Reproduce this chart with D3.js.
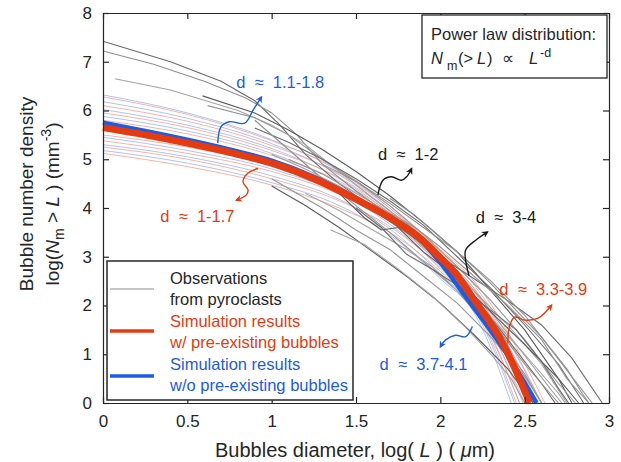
<!DOCTYPE html>
<html>
<head>
<meta charset="utf-8">
<script src="https://cdn.jsdelivr.net/npm/d3@7/dist/d3.min.js"></script>
<style>
  body { margin: 0; background: #fff; }
  text { font-family: "Liberation Sans", Arial, Helvetica, sans-serif; fill: #262626; }
</style>
</head>
<body>
<svg id="chart" width="621" height="462"></svg>
<script>
// Tick values
const xTicks = [0, 0.5, 1, 1.5, 2, 2.5, 3];
const yTicks = [0, 1, 2, 3, 4, 5, 6, 7, 8];

// Observations from pyroclasts, [log L, log Nm]
const obsCurves = [
  [[0, 7.42], [0.4, 7.0], [0.7, 6.6], [0.9, 6.2], [1.05, 5.7], [1.2, 5.1], [1.4, 4.5], [1.6, 4.0], [1.8, 3.5], [2.0, 3.0], [2.2, 2.2], [2.4, 1.3], [2.6, 0.4], [2.68, 0]],
  [[0, 7.22], [0.3, 6.95], [0.6, 6.6], [0.85, 6.25], [1.0, 5.95], [1.15, 5.5], [1.3, 4.9], [1.5, 4.35], [1.7, 3.85], [1.9, 3.25], [2.1, 2.6], [2.3, 1.7], [2.5, 0.8], [2.7, 0]],
  [[0.07, 6.65], [0.4, 6.42], [0.8, 6.0], [1.0, 5.7], [1.2, 5.3], [1.4, 4.75], [1.6, 4.2], [1.85, 3.55], [2.05, 2.9], [2.25, 2.1], [2.45, 1.2], [2.65, 0.3], [2.72, 0]],
  [[0.59, 6.3], [0.9, 5.95], [1.1, 5.6], [1.3, 5.2], [1.5, 4.75], [1.7, 4.25], [1.9, 3.7], [2.1, 3.1], [2.3, 2.3], [2.5, 1.5], [2.7, 0.5], [2.78, 0]],
  [[0.62, 6.1], [0.9, 5.85], [1.1, 5.5], [1.3, 5.0], [1.5, 4.55], [1.7, 4.05], [1.9, 3.45], [2.1, 2.8], [2.3, 2.1], [2.5, 1.3], [2.7, 0.4], [2.8, 0]],
  [[0.9, 5.64], [1.1, 5.35], [1.3, 5.0], [1.5, 4.6], [1.7, 4.15], [1.9, 3.65], [2.1, 3.0], [2.3, 2.35], [2.5, 1.6], [2.7, 0.8], [2.85, 0]],
  [[0.9, 5.8], [1.1, 5.2], [1.3, 4.6], [1.5, 4.05], [1.7, 3.5], [1.9, 2.9], [2.1, 2.3], [2.3, 1.5], [2.5, 0.6], [2.6, 0]],
  [[1.0, 5.1], [1.2, 4.8], [1.4, 4.45], [1.6, 4.0], [1.8, 3.5], [2.0, 2.9], [2.2, 2.3], [2.4, 1.6], [2.6, 0.8], [2.75, 0]],
  [[1.0, 4.45], [1.2, 4.05], [1.4, 3.6], [1.6, 3.1], [1.8, 2.6], [2.0, 2.05], [2.2, 1.4], [2.4, 0.7], [2.55, 0]],
  [[1.0, 4.6], [1.3, 4.0], [1.5, 3.55], [1.7, 3.15], [1.9, 2.6], [2.1, 2.05], [2.3, 1.35], [2.5, 0.55], [2.6, 0]],
  [[1.6, 3.95], [1.8, 3.5], [2.0, 3.0], [2.2, 2.55], [2.4, 2.1], [2.6, 1.6], [2.78, 0.92], [2.96, 0]],
  [[1.3, 4.9], [1.5, 4.55], [1.7, 4.1], [1.9, 3.6], [2.1, 3.1], [2.3, 2.5], [2.5, 1.8], [2.7, 0.9], [2.9, 0]],
  [[1.2, 4.3], [1.4, 3.95], [1.6, 3.55], [1.8, 3.15], [1.95, 2.8], [2.1, 2.3], [2.3, 1.75], [2.5, 1.0], [2.7, 0.2], [2.74, 0]],
  [[1.4, 4.3], [1.55, 3.8], [1.65, 3.55], [1.75, 3.6], [1.9, 3.1], [2.05, 2.7], [2.2, 2.2], [2.35, 1.7], [2.5, 1.2], [2.7, 0.5], [2.82, 0]],
  [[1.1, 5.0], [1.3, 4.7], [1.5, 4.3], [1.7, 3.9], [1.85, 3.6], [2.0, 3.2], [2.2, 2.6], [2.4, 2.0], [2.6, 1.3], [2.75, 0.5], [2.88, 0]],
  [[1.5, 4.0], [1.65, 3.6], [1.8, 3.05], [1.95, 2.75], [2.15, 2.3], [2.3, 1.9], [2.45, 1.5], [2.6, 0.85], [2.7, 0.3], [2.76, 0]],
  [[1.7, 4.2], [1.85, 3.85], [2.0, 3.4], [2.15, 2.95], [2.3, 2.45], [2.45, 1.9], [2.6, 1.35], [2.75, 0.7], [2.85, 0.15], [2.88, 0]],
  [[1.35, 3.55], [1.55, 3.25], [1.75, 2.75], [1.95, 2.2], [2.15, 1.55], [2.3, 1.0], [2.42, 0.5], [2.5, 0]]
];

// Simulation ensembles: y values at simX, then each curve ends at y = 0
const simX = [0, 0.5, 1, 1.4, 1.7, 2, 2.2];
const simRedY = [
  [6.28, 5.92, 5.38, 4.78, 4.05, 3.15, 2.5],
  [6.1, 5.78, 5.28, 4.7, 4.0, 3.1, 2.42],
  [5.95, 5.65, 5.18, 4.62, 3.95, 3.05, 2.35],
  [5.8, 5.52, 5.08, 4.55, 3.9, 3.0, 2.3],
  [5.5, 5.25, 4.88, 4.38, 3.8, 2.92, 2.2],
  [5.38, 5.12, 4.75, 4.28, 3.72, 2.85, 2.12],
  [5.25, 5.0, 4.6, 4.15, 3.62, 2.78, 2.05],
  [5.12, 4.85, 4.47, 4.0, 3.5, 2.7, 1.98]
];
const simRedEnd = [2.62, 2.6, 2.57, 2.55, 2.52, 2.49, 2.47, 2.45];
const simBlueY = [
  [6.32, 5.95, 5.4, 4.75, 4.0, 3.05, 2.35],
  [6.18, 5.84, 5.32, 4.68, 3.95, 3.0, 2.28],
  [6.02, 5.7, 5.22, 4.6, 3.9, 2.95, 2.2],
  [5.88, 5.58, 5.12, 4.52, 3.85, 2.9, 2.15],
  [5.6, 5.34, 4.94, 4.4, 3.75, 2.82, 2.08],
  [5.45, 5.18, 4.8, 4.3, 3.67, 2.75, 2.0],
  [5.3, 5.05, 4.66, 4.18, 3.57, 2.65, 1.92],
  [5.18, 4.92, 4.52, 4.05, 3.45, 2.55, 1.85]
];
const simBlueEnd = [2.6, 2.58, 2.55, 2.53, 2.5, 2.47, 2.44, 2.42];

// Representative simulation results
const redMain = [[0, 5.65], [0.25, 5.5], [0.5, 5.33], [0.75, 5.14], [1, 4.92], [1.25, 4.6], [1.5, 4.18], [1.74, 3.72], [1.88, 3.38], [2.0, 2.98], [2.09, 2.66], [2.19, 2.17], [2.37, 1.23], [2.53, 0]];
const blueMain = [[0, 5.75], [0.25, 5.58], [0.5, 5.4], [0.75, 5.2], [1, 4.97], [1.25, 4.64], [1.5, 4.2], [1.74, 3.7], [1.9, 3.28], [2.0, 2.88], [2.15, 2.18], [2.39, 1.03], [2.57, 0]];

// Annotations: label, colour, text anchor and squiggly arrow path (data units)
const notes = [
  { text: 'd  \u2248  1.1-1.8', color: '#1a5ce6', at: [0.79, 6.46], arrow: [[0.68, 5.33], [0.70, 5.67], [0.75, 5.77], [0.84, 5.74], [0.89, 6.01], [0.94, 6.28]] },
  { text: 'd  \u2248  1-1.7', color: '#e63b10', at: [0.34, 3.71], arrow: [[0.92, 4.81], [0.86, 4.72], [0.83, 4.54], [0.86, 4.37], [0.85, 4.27], [0.79, 4.16]] },
  { text: 'd  \u2248  1-2', color: '#1a1a1a', at: [1.63, 4.98], arrow: [[1.63, 4.27], [1.66, 4.57], [1.71, 4.64], [1.77, 4.57], [1.80, 4.64], [1.83, 4.81]] },
  { text: 'd  \u2248  3-4', color: '#1a1a1a', at: [2.21, 3.69], arrow: [[2.17, 2.61], [2.15, 2.93], [2.15, 3.14], [2.21, 3.34], [2.28, 3.51]] },
  { text: 'd  \u2248  3.3-3.9', color: '#e63b10', at: [2.35, 2.22], arrow: [[2.40, 1.22], [2.41, 1.57], [2.44, 1.76], [2.50, 1.70], [2.58, 1.74], [2.66, 2.01]] },
  { text: 'd  \u2248  3.7-4.1', color: '#1a5ce6', at: [1.64, 0.68], arrow: [[2.19, 1.57], [2.15, 1.36], [2.09, 1.39], [2.03, 1.29], [2.00, 1.15]] }
];

const svg = d3.select('#chart');
const m = { left: 103, right: 609, top: 13, bottom: 403 };

const x = d3.scaleLinear().domain([0, 3]).range([m.left, m.right]);
const y = d3.scaleLinear().domain([0, 8]).range([m.bottom, m.top]);

const line = d3.line().x(d => x(d[0])).y(d => y(d[1]));
const smooth = d3.line().x(d => x(d[0])).y(d => y(d[1])).curve(d3.curveMonotoneX);

function simPoints(rows, ends) {
  return rows.map((row, i) => simX.map((v, j) => [v, row[j]]).concat([[ends[i], 0]]));
}

// Light simulation ensembles, red and blue interleaved
const plot = svg.append('g');
const redSims = simPoints(simRedY, simRedEnd);
const blueSims = simPoints(simBlueY, simBlueEnd);
redSims.forEach((pts, i) => {
  plot.append('path').attr('d', smooth(blueSims[i]))
    .attr('fill', 'none').attr('stroke', '#8fb0f2').attr('stroke-opacity', 0.75).attr('stroke-width', 1);
  plot.append('path').attr('d', smooth(pts))
    .attr('fill', 'none').attr('stroke', '#f39a86').attr('stroke-opacity', 0.75).attr('stroke-width', 1);
});

// Observations
const greys = ['#6b6b6b', '#8f8f8f', '#a3a3a3', '#5c5c5c', '#969696'];
plot.selectAll('path.obs').data(obsCurves).enter().append('path')
  .attr('class', 'obs')
  .attr('d', line)
  .attr('fill', 'none')
  .attr('stroke', (d, i) => greys[i % greys.length])
  .attr('stroke-width', 1.1);

// Main simulation curves
plot.append('path').attr('d', smooth(blueMain))
  .attr('fill', 'none').attr('stroke', '#1a5ce6').attr('stroke-width', 4.5).attr('stroke-linejoin', 'round');
plot.append('path').attr('d', smooth(redMain))
  .attr('fill', 'none').attr('stroke', '#e63b10').attr('stroke-width', 7).attr('stroke-linejoin', 'round');

// Axes with inward ticks on all sides
const fmt = d3.format('');
function styleAxis(g) {
  g.selectAll('.domain').attr('stroke', '#262626').attr('stroke-width', 1.2);
  g.selectAll('.tick line').attr('stroke', '#262626').attr('stroke-width', 1.2);
  g.selectAll('.tick text').attr('fill', '#262626').style('font-size', '17px')
    .style('font-family', '"Liberation Sans", Arial, sans-serif');
}
svg.append('g').attr('transform', `translate(0,${m.bottom})`)
  .call(d3.axisBottom(x).tickValues(xTicks).tickFormat(fmt).tickSizeInner(-6).tickSizeOuter(0).tickPadding(12))
  .call(styleAxis);
svg.append('g').attr('transform', `translate(0,${m.top})`)
  .call(d3.axisTop(x).tickValues(xTicks).tickFormat('').tickSizeInner(-6).tickSizeOuter(0))
  .call(styleAxis);
svg.append('g').attr('transform', `translate(${m.left},0)`)
  .call(d3.axisLeft(y).tickValues(yTicks).tickFormat(fmt).tickSizeInner(-6).tickSizeOuter(0).tickPadding(11))
  .call(styleAxis);
svg.append('g').attr('transform', `translate(${m.right},0)`)
  .call(d3.axisRight(y).tickValues(yTicks).tickFormat('').tickSizeInner(-6).tickSizeOuter(0))
  .call(styleAxis);

// Annotations
const defs = svg.append('defs');
const arrowLine = d3.line().x(d => x(d[0])).y(d => y(d[1])).curve(d3.curveCatmullRom);
notes.forEach((n, i) => {
  defs.append('marker').attr('id', 'head' + i)
    .attr('viewBox', '0 0 10 10').attr('refX', 8).attr('refY', 5)
    .attr('markerWidth', 7).attr('markerHeight', 7).attr('markerUnits', 'userSpaceOnUse')
    .attr('orient', 'auto')
    .append('path').attr('d', 'M0,0L10,5L0,10L3,5Z').attr('fill', n.color);
  svg.append('path').attr('d', arrowLine(n.arrow))
    .attr('fill', 'none').attr('stroke', n.color).attr('stroke-width', 1.4)
    .attr('marker-end', `url(#head${i})`);
  svg.append('text').attr('x', x(n.at[0])).attr('y', y(n.at[1]))
    .style('font-size', '16.5px').style('white-space', 'pre').style('fill', n.color)
    .text(n.text);
});

// Power law box
const pl = svg.append('g');
pl.append('rect').attr('x', 422).attr('y', 15).attr('width', 185).attr('height', 63)
  .attr('fill', '#fff').attr('stroke', '#262626').attr('stroke-width', 1.3);
pl.append('text').attr('x', 431).attr('y', 40).style('font-size', '16.5px').text('Power law distribution:');
const pt = pl.append('text').attr('y', 64).style('font-size', '16.5px');
pt.append('tspan').attr('x', 431).style('font-style', 'italic').text('N');
pt.append('tspan').attr('x', 447).attr('dy', 6).style('font-size', '12.5px').text('m');
pt.append('tspan').attr('x', 458).attr('dy', -6).text('(>');
pt.append('tspan').attr('x', 477).style('font-style', 'italic').text('L');
pt.append('tspan').attr('x', 487).text(')');
pt.append('tspan').attr('x', 502).text('\u221D');
pt.append('tspan').attr('x', 529).style('font-style', 'italic').text('L');
pt.append('tspan').attr('x', 540).attr('dy', -7).style('font-size', '12.5px').text('-d');

// Legend
const lg = svg.append('g');
lg.append('rect').attr('x', 107).attr('y', 261).attr('width', 246).attr('height', 139)
  .attr('fill', '#fff').attr('stroke', '#262626').attr('stroke-width', 1.5);
const legendItems = [
  { color: '#8c8c8c', width: 1.2, lines: ['Observations', 'from pyroclasts'], ly: 289, ty: 284, tc: '#262626' },
  { color: '#e63b10', width: 3.5, lines: ['Simulation results', 'w/ pre-existing bubbles'], ly: 331, ty: 327, tc: '#e63b10' },
  { color: '#1a5ce6', width: 3.5, lines: ['Simulation results', 'w/o pre-existing bubbles'], ly: 376, ty: 370, tc: '#1a5ce6' }
];
legendItems.forEach(it => {
  lg.append('line').attr('x1', 110).attr('x2', 154).attr('y1', it.ly).attr('y2', it.ly)
    .attr('stroke', it.color).attr('stroke-width', it.width);
  it.lines.forEach((t, k) => {
    lg.append('text').attr('x', 170).attr('y', it.ty + k * 20.5)
      .style('font-size', '16.5px').style('fill', it.tc).text(t);
  });
});

// Axis titles
const xt = svg.append('text').attr('x', 355).attr('y', 457).attr('text-anchor', 'middle')
  .style('font-size', '20px').style('white-space', 'pre');
xt.append('tspan').text('Bubbles diameter, log( ');
xt.append('tspan').style('font-style', 'italic').text('L');
xt.append('tspan').text(' ) ( ');
xt.append('tspan').style('font-style', 'italic').text('\u03BC');
xt.append('tspan').text('m)');

svg.append('text').attr('transform', 'translate(33,194) rotate(-90)').attr('text-anchor', 'middle')
  .style('font-size', '19px').text('Bubble number density');
const yt = svg.append('text').attr('transform', 'translate(59,204) rotate(-90)').attr('text-anchor', 'middle')
  .style('font-size', '19px').style('white-space', 'pre');
yt.append('tspan').text('log(');
yt.append('tspan').style('font-style', 'italic').text('N');
yt.append('tspan').attr('dy', 5).style('font-size', '14px').text('m');
yt.append('tspan').attr('dy', -5).text(' > ');
yt.append('tspan').style('font-style', 'italic').text('L');
yt.append('tspan').text(' ) (mm');
yt.append('tspan').attr('dy', -8).style('font-size', '14px').text('-3');
yt.append('tspan').attr('dy', 8).text(')');
</script>
</body>
</html>
